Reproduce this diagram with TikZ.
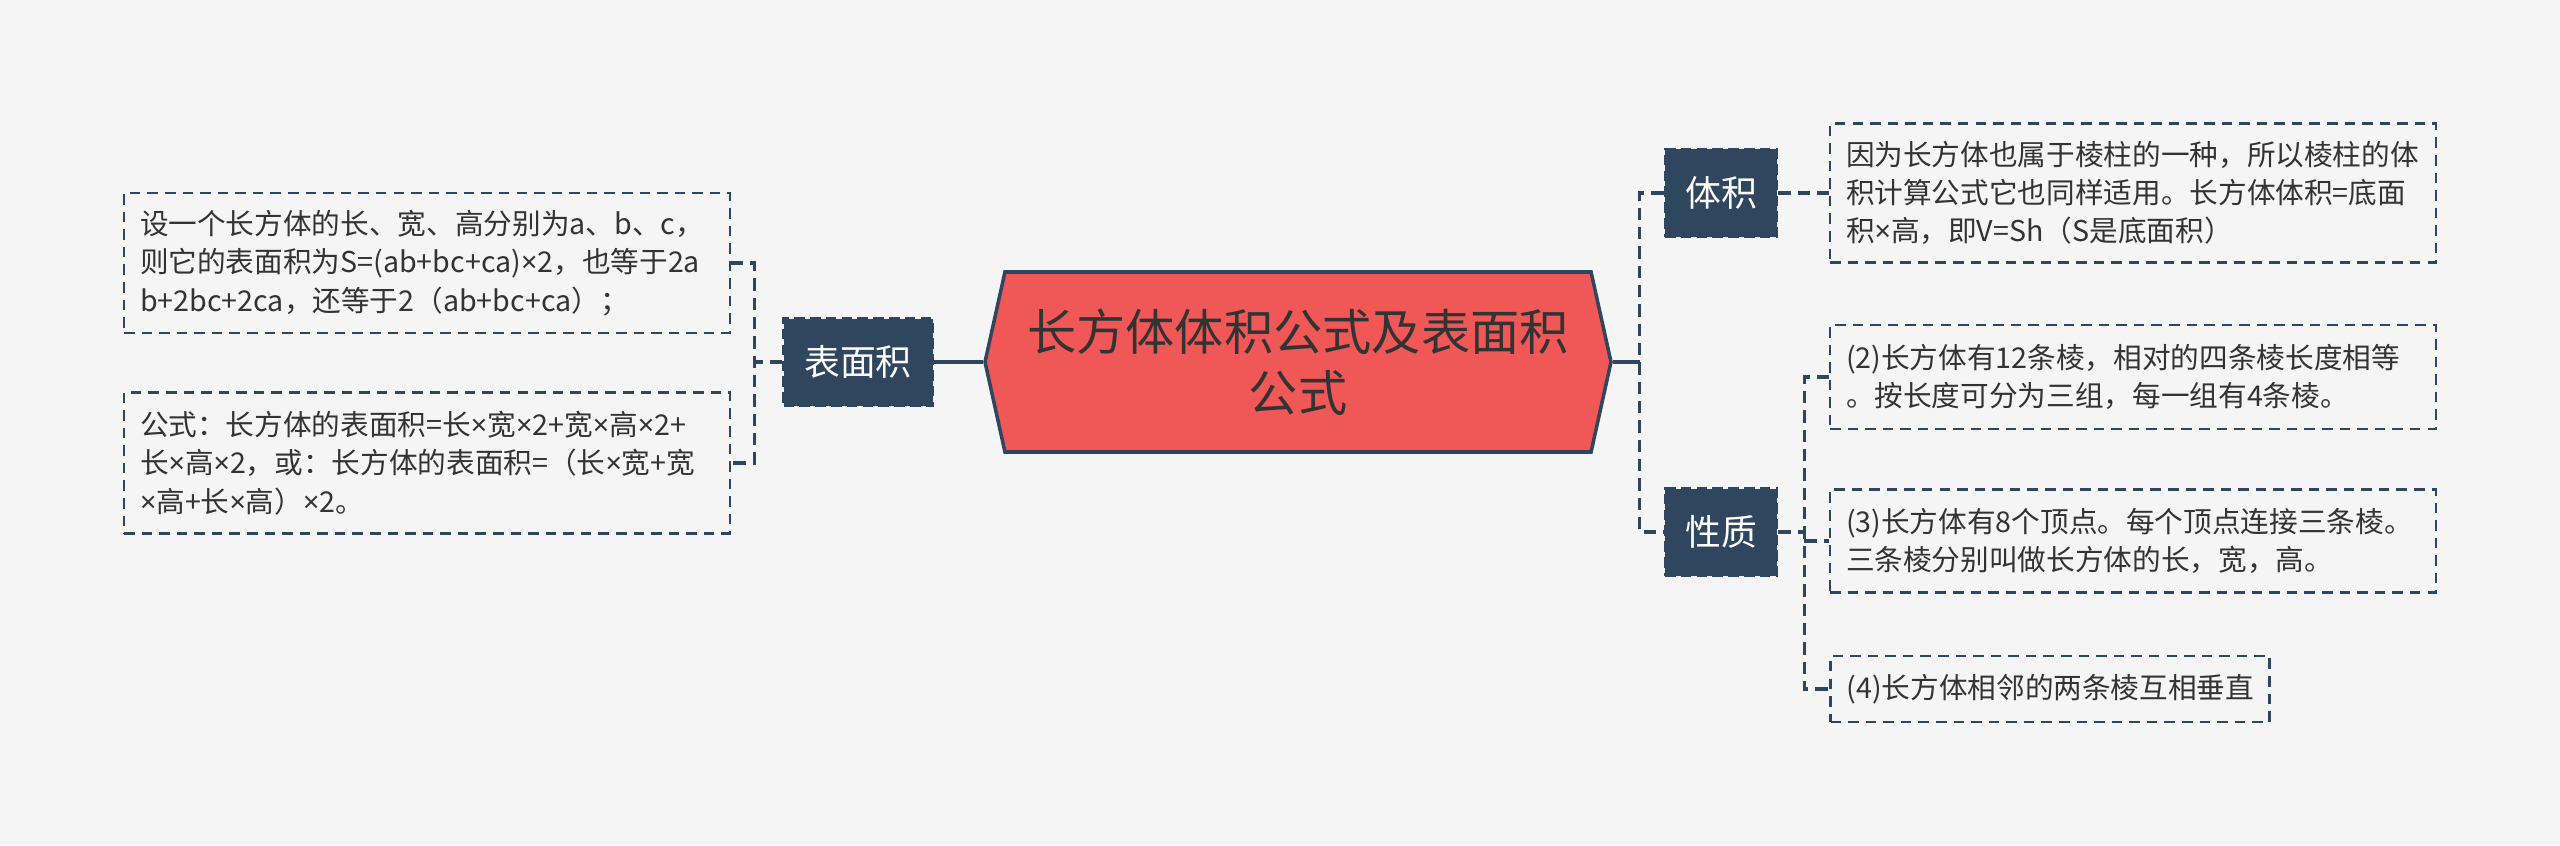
\documentclass[tikz,border=0pt]{standalone}
\usepackage{fontspec}
\setmainfont{Noto Sans CJK SC}
\newfontfamily\latinx{Noto Sans}
\newcommand{\tms}{{\latinx ×}}
\usetikzlibrary{calc,shapes.symbols}
\definecolor{navy}{RGB}{48,70,94}
\definecolor{hexred}{RGB}{240,87,87}
\definecolor{ink}{RGB}{51,51,51}
\definecolor{paper}{RGB}{245,245,245}
\begin{document}
\begin{tikzpicture}[
  root/.style={signal, signal to=west and east, signal pointer angle=155,
    fill=hexred, draw=navy, line width=1pt, text=ink, align=center,
    minimum width=6.26cm, minimum height=1.80cm, inner sep=0pt,
    font=\fontsize{14}{17.2}\selectfont},
  topic/.style={fill=navy, draw=navy, line width=0.7pt, dash pattern=on 3pt off 1.5pt,
    text=white, minimum height=0.87cm, inner sep=0pt,
    font=\fontsize{10.2}{12}\selectfont},
  leaf/.style={draw=navy, line width=0.6pt, dash pattern=on 3pt off 2pt,
    text=ink, align=left, text width=5.74cm, inner xsep=0.16cm, inner ysep=0pt,
    font=\fontsize{8.15}{10.9}\selectfont},
  link/.style={draw=navy, line width=0.9pt, dash pattern=on 3.5pt off 2pt},
  trunk/.style={draw=navy, line width=0.9pt}]
\fill[paper] (0,0) rectangle (25.6,8.45);
\useasboundingbox (0,0) rectangle (25.6,8.45);
% centre
\node[root] (main) at (12.98,4.83) {长方体体积公式及表面积\\公式};
% first level
\node[topic, minimum width=1.49cm] (surf) at (8.58,4.83) {表面积};
\node[topic, minimum width=1.12cm] (vol) at (17.21,6.52) {体积};
\node[topic, minimum width=1.12cm] (prop) at (17.21,3.13) {性质};
% left leaves
\node[leaf, minimum height=1.40cm] (area1) at (4.27,5.82)
  {设一个长方体的长、宽、高分别为a、b、c，\\则它的表面积为S=(ab+bc+ca)\tms{}2，也等于2a\\b+2bc+2ca，还等于2（ab+bc+ca）；};
\node[leaf, minimum height=1.41cm] (area2) at (4.27,3.82)
  {公式：长方体的表面积=长\tms{}宽\tms{}2+宽\tms{}高\tms{}2+\\长\tms{}高\tms{}2，或：长方体的表面积=（长\tms{}宽+宽\\\tms{}高+长\tms{}高）\tms{}2。};
% right leaves
\node[leaf, minimum height=1.39cm] (vol1) at (21.33,6.52)
  {因为长方体也属于棱柱的一种，所以棱柱的体\\积计算公式它也同样适用。长方体体积=底面\\积\tms{}高，即V=Sh（S是底面积）};
\node[leaf, minimum height=1.04cm] (prop2) at (21.33,4.68)
  {(2)长方体有12条棱，相对的四条棱长度相等\\。按长度可分为三组，每一组有4条棱。};
\node[leaf, minimum height=1.03cm] (prop3) at (21.33,3.04)
  {(3)长方体有8个顶点。每个顶点连接三条棱。\\三条棱分别叫做长方体的长，宽，高。};
\node[leaf, text width=4.07cm, minimum height=0.66cm] (prop4) at (20.50,1.56)
  {(4)长方体相邻的两条棱互相垂直};
% joints
\coordinate (sj) at ($(main.west)+(-0.37,0)$);
\coordinate (lj) at ($(surf.west)+(-0.28,0)$);
\coordinate (rj) at ($(main.east)+(0.27,0)$);
\coordinate (pj) at ($(prop.east)+(0.26,0)$);
% connectors
\draw[trunk] (main.west) -- (sj);
\draw[link] (sj) -- (surf.east);
\draw[link] (surf.west) -- (lj);
\draw[link] (area1.east) -- (area1.east -| lj) -- (area2.east -| lj) -- (area2.east);
\draw[trunk] (main.east) -- (rj);
\draw[link] (vol.west) -- (vol.west -| rj) -- (prop.west -| rj) -- (prop.west);
\draw[link] (vol.east) -- (vol1.west);
\draw[link] (prop.east) -- (pj);
\draw[link] (prop2.west) -- (prop2.west -| pj) -- (prop4.west -| pj) -- (prop4.west);
\draw[link] (prop3.west -| pj) -- (prop3.west);
\end{tikzpicture}
\end{document}
